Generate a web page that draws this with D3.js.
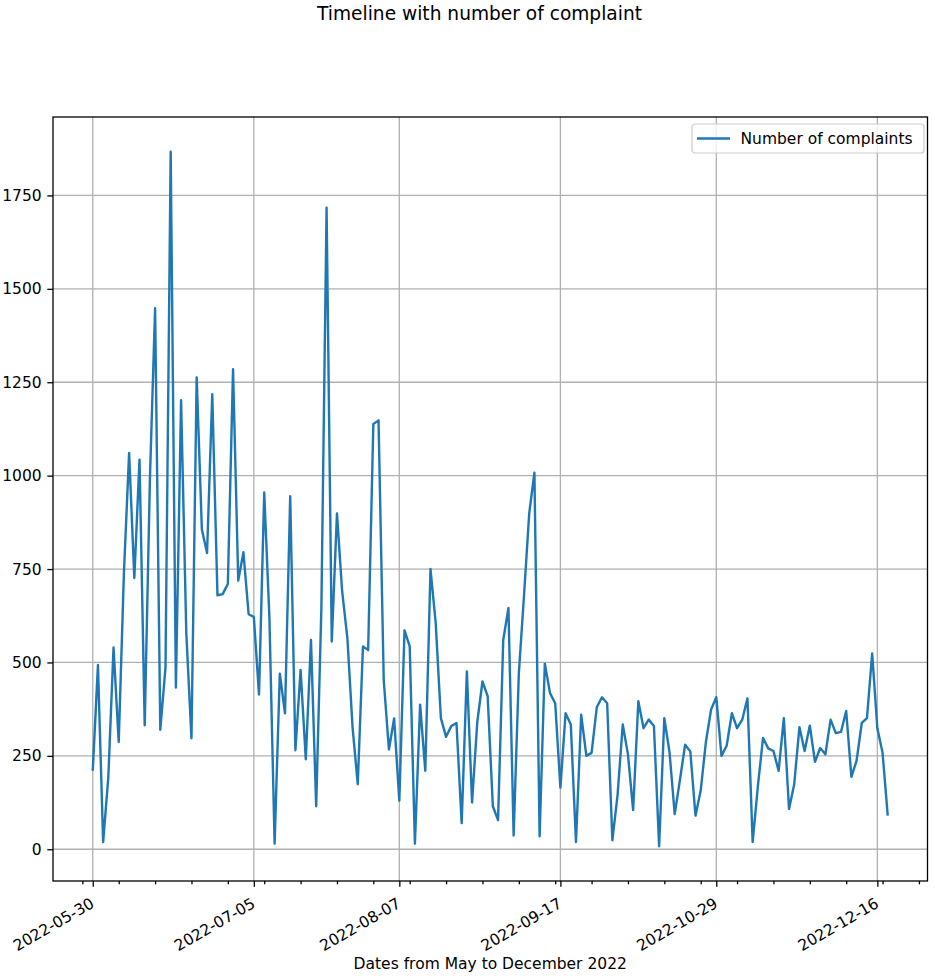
<!DOCTYPE html>
<html>
<head>
<meta charset="utf-8">
<script src="https://cdn.jsdelivr.net/npm/d3@7"></script>
<style>
  body { margin: 0; background: #fff; }
  svg { display: block; font-family: "DejaVu Sans", sans-serif; }
  .grid line { stroke: #b0b0b0; stroke-width: 1.3; }
  .axis path { stroke: #000; stroke-width: 1.3; }
  .axis line { stroke: #000; stroke-width: 1.3; }
  .axis text { fill: #000; font-size: 15.5px; font-family: "DejaVu Sans", sans-serif; }
</style>
</head>
<body>
<script>
// number of complaints per day (index = position on the x axis)
var complaints = [
  210, 493, 19, 194, 540, 287, 740, 1061, 726, 1043,
  332, 990, 1448, 320, 487, 1867, 433, 1202, 580, 297,
  1263, 856, 793, 1218, 680, 683, 710, 1285, 719, 795,
  629, 622, 414, 955, 620, 15, 470, 364, 945, 265,
  480, 241, 560, 115, 646, 1717, 556, 899, 690, 566,
  327, 174, 543, 533, 1138, 1148, 453, 267, 350, 130,
  586, 543, 15, 387, 210, 750, 606, 351, 301, 330,
  338, 70, 476, 125, 340, 449, 410, 115, 78, 560,
  646, 37, 470, 680, 899, 1008, 35, 497, 418, 391,
  165, 364, 334, 19, 360, 250, 258, 380, 407, 391,
  24, 145, 334, 254, 105, 396, 324, 347, 330, 8,
  351, 260, 94, 185, 280, 262, 90, 157, 287, 374,
  407, 250, 277, 364, 324, 347, 404, 19, 168, 298,
  270, 263, 210, 351, 108, 174, 327, 263, 331, 234,
  271, 254, 347, 311, 314, 370, 194, 237, 338, 351,
  524, 324, 258, 90
];
var tickIndex = [0, 31, 59, 90, 120, 151];
var tickLabels = ["2022-05-30", "2022-07-05", "2022-08-07", "2022-09-17", "2022-10-29", "2022-12-16"];
var yTicks = [0, 250, 500, 750, 1000, 1250, 1500, 1750];
var minorTicks = d3.range(-2, 161, 7);

var width = 935, height = 978;
var plotLeft = 53, plotRight = 927.5, plotTop = 117, plotBottom = 881;

var svg = d3.select("body").append("svg")
    .attr("width", width)
    .attr("height", height);

// matplotlib style 5% margins
var n = complaints.length - 1;
var x = d3.scaleLinear()
    .domain([-0.05 * n, n * 1.05])
    .range([plotLeft, plotRight]);
var yMin = d3.min(complaints), yMax = d3.max(complaints);
var yPad = (yMax - yMin) * 0.05;
var y = d3.scaleLinear()
    .domain([yMin - yPad, yMax + yPad])
    .range([plotBottom, plotTop]);

//****************************** Grid ******************************
svg.append("g").attr("class", "grid")
  .selectAll("line").data(tickIndex)
  .enter().append("line")
    .attr("x1", function(d){ return x(d); })
    .attr("x2", function(d){ return x(d); })
    .attr("y1", plotTop)
    .attr("y2", plotBottom);

svg.append("g").attr("class", "grid")
  .selectAll("line").data(yTicks)
  .enter().append("line")
    .attr("x1", plotLeft)
    .attr("x2", plotRight)
    .attr("y1", function(d){ return y(d); })
    .attr("y2", function(d){ return y(d); });

//****************************** Line ******************************
var line = d3.line()
    .x(function(d, i){ return x(i); })
    .y(function(d){ return y(d); });

svg.append("path")
    .datum(complaints)
    .attr("fill", "none")
    .attr("stroke", "#1f77b4")
    .attr("stroke-width", 2.4)
    .attr("stroke-linejoin", "round")
    .attr("d", line);

//****************************** Axes ******************************
// minor ticks on the x axis
svg.append("g").attr("class", "axis")
    .attr("transform", "translate(0," + plotBottom + ")")
    .call(d3.axisBottom(x).tickValues(minorTicks).tickSize(3.3).tickFormat(""))
    .call(function(g){ g.select(".domain").remove(); });

var xAxis = svg.append("g").attr("class", "axis")
    .attr("transform", "translate(0," + plotBottom + ")")
    .call(d3.axisBottom(x)
        .tickValues(tickIndex)
        .tickSize(5.7)
        .tickPadding(5.7)
        .tickFormat(function(d, i){ return tickLabels[i]; }));
xAxis.select(".domain").remove();
// rotated 30 degrees, right aligned like autofmt_xdate
xAxis.selectAll("text")
    .attr("text-anchor", "end")
    .attr("y", 0)
    .attr("dy", "0.78em")
    .attr("transform", "translate(-4,15) rotate(-30)");

var yAxis = svg.append("g").attr("class", "axis")
    .attr("transform", "translate(" + plotLeft + ",0)")
    .call(d3.axisLeft(y).tickValues(yTicks).tickSize(5.7).tickPadding(5.7).tickFormat(d3.format("d")));
yAxis.select(".domain").remove();

// frame
svg.append("rect")
    .attr("x", plotLeft)
    .attr("y", plotTop)
    .attr("width", plotRight - plotLeft)
    .attr("height", plotBottom - plotTop)
    .attr("fill", "none")
    .attr("stroke", "#000")
    .attr("stroke-width", 1.3);

//****************************** Texts ******************************
svg.append("text")
    .attr("x", width / 2 + 12)
    .attr("y", 20)
    .attr("text-anchor", "middle")
    .attr("font-size", "18.6px")
    .text("Timeline with number of complaint");

svg.append("text")
    .attr("x", (plotLeft + plotRight) / 2)
    .attr("y", 969)
    .attr("text-anchor", "middle")
    .attr("font-size", "15.5px")
    .text("Dates from May to December 2022");

//****************************** Legend ******************************
var legend = svg.append("g").attr("transform", "translate(692,124)");
legend.append("rect")
    .attr("width", 232)
    .attr("height", 29)
    .attr("rx", 3)
    .attr("fill", "#fff")
    .attr("fill-opacity", 0.8)
    .attr("stroke", "#cccccc")
    .attr("stroke-width", 1.2);
legend.append("line")
    .attr("x1", 5)
    .attr("x2", 38)
    .attr("y1", 14.5)
    .attr("y2", 14.5)
    .attr("stroke", "#1f77b4")
    .attr("stroke-width", 2.4);
legend.append("text")
    .attr("x", 48.5)
    .attr("y", 14.5)
    .attr("dy", "0.35em")
    .attr("font-size", "15.5px")
    .text("Number of complaints");
</script>
</body>
</html>
